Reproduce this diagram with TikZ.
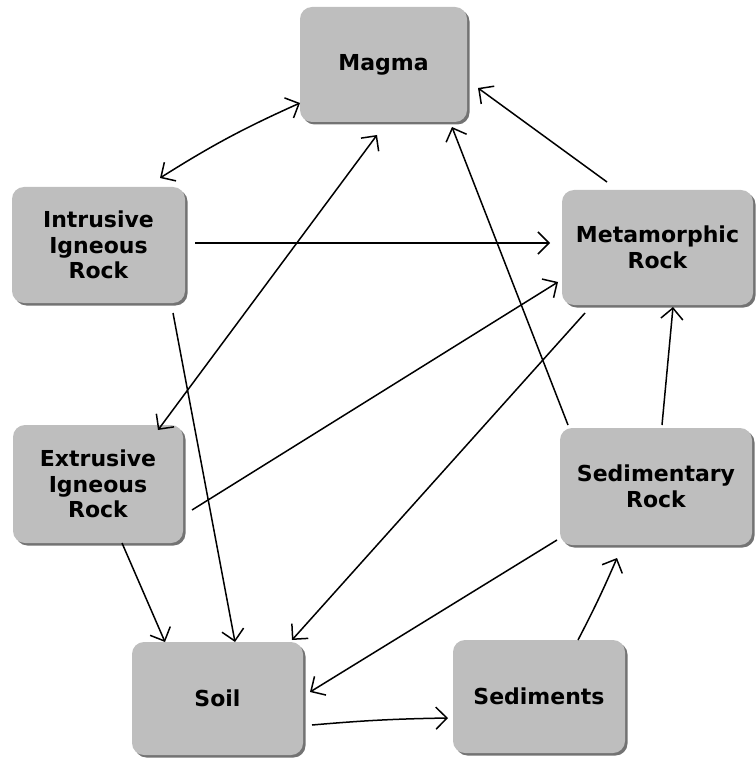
\documentclass[tikz,border=0pt]{standalone}
\usepackage{fontspec}
\setmainfont{DejaVu Sans}
\usetikzlibrary{arrows.meta,shadows}
\definecolor{boxfill}{RGB}{190,190,190}
\definecolor{boxshadow}{RGB}{115,115,115}
\tikzset{
  rockbox/.style={draw=none, fill=boxfill, rounded corners=12pt,
    minimum width=#1, align=center, inner sep=0pt,
    font=\bfseries\fontsize{22}{25.5}\selectfont,
    general shadow={fill=boxshadow, shadow xshift=2.5pt, shadow yshift=-2.5pt}},
  rockbox/.default=170pt,
  arr/.style={line width=1.5pt, -{Straight Barb[length=11pt,width=22pt,line width=1.5pt]}},
  darr/.style={line width=1.5pt, {Straight Barb[length=11pt,width=22pt,line width=1.5pt]}-{Straight Barb[length=11pt,width=22pt,line width=1.5pt]}}
}
\begin{document}
\begin{tikzpicture}[x=1pt,y=-1pt]
\useasboundingbox (0,0) rectangle (755,759);
\node[rockbox=167pt, minimum height=115pt] (magma) at (383.5,64.5) {Magma};
\node[rockbox=173pt, minimum height=116pt] (intr) at (98.5,245) {Intrusive\\Igneous\\Rock};
\node[rockbox=170pt, minimum height=118pt] (extr) at (98,484) {Extrusive\\Igneous\\Rock};
\node[rockbox=171pt, minimum height=113pt] (soil) at (217.5,698.5) {Soil};
\node[rockbox=172pt, minimum height=113pt] (sedi) at (539,696.5) {Sediments};
\node[rockbox=191pt, minimum height=115pt] (meta) at (657.5,247.5) {Metamorphic\\Rock};
\node[rockbox=192pt, minimum height=117pt] (sedr) at (656,486.5) {Sedimentary\\Rock};

\draw[darr] ([shift={(61.5,-67)}]intr.center) to[bend left=4] ([shift={(-83.5,38.5)}]magma.center);
\draw[darr] ([shift={(-6.5,70.5)}]magma.center) -- ([shift={(60,-54)}]extr.center);
\draw[arr] ([shift={(96.5,-2)}]intr.center) -- ([shift={(-107.5,-4.5)}]meta.center);
\draw[arr] ([shift={(94,26)}]extr.center) -- ([shift={(-99.5,34.5)}]meta.center);
\draw[arr] ([shift={(-50.5,-65.5)}]meta.center) -- ([shift={(94.5,23.5)}]magma.center);
\draw[arr] ([shift={(-88,-61.5)}]sedr.center) -- ([shift={(68.5,62.5)}]magma.center);
\draw[arr] ([shift={(6,-61.5)}]sedr.center) -- ([shift={(15.5,59.5)}]meta.center);
\draw[arr] ([shift={(74.5,68)}]intr.center) -- ([shift={(17.5,-56.5)}]soil.center);
\draw[arr] ([shift={(24,59)}]extr.center) -- ([shift={(-52.5,-56.5)}]soil.center);
\draw[arr] ([shift={(-72.5,65.5)}]meta.center) -- ([shift={(74.5,-58.5)}]soil.center);
\draw[arr] ([shift={(-99,53.5)}]sedr.center) -- ([shift={(92.5,-6.5)}]soil.center);
\draw[arr] ([shift={(94.5,26.5)}]soil.center) to[bend left=2] ([shift={(-91,21.5)}]sedi.center);
\draw[arr] ([shift={(39,-56.5)}]sedi.center) to[bend right=2] ([shift={(-39,71.5)}]sedr.center);
\end{tikzpicture}
\end{document}
